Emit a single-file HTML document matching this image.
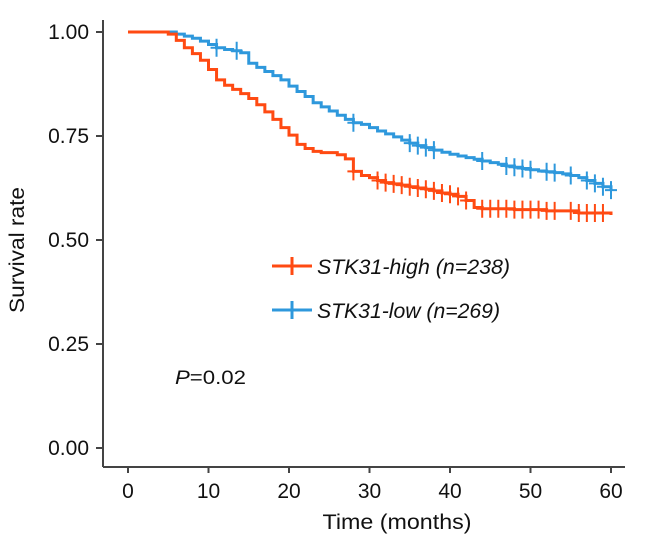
<!DOCTYPE html>
<html><head><meta charset="utf-8"><style>
html,body{margin:0;padding:0;background:#fff}
svg{display:block;font-family:"Liberation Sans",Arial,sans-serif}
</style></head><body>
<svg id="chart" width="646" height="544" viewBox="0 0 646 544">
<g id="axes"></g><g id="series"></g>
<g>
 <g>
  <line x1="272" y1="266" x2="312" y2="266" stroke="#ff4a12" stroke-width="3"/>
  <line x1="292" y1="257" x2="292" y2="275" stroke="#ff4a12" stroke-width="3"/>
  <text x="317" y="274" font-size="21" font-style="italic" fill="#111" textLength="193" lengthAdjust="spacingAndGlyphs">STK31-high (n=238)</text>
 </g>
 <g>
  <line x1="272" y1="310" x2="312" y2="310" stroke="#2e98dc" stroke-width="3"/>
  <line x1="292" y1="301" x2="292" y2="319" stroke="#2e98dc" stroke-width="3"/>
  <text x="317" y="318" font-size="21" font-style="italic" fill="#111" textLength="183" lengthAdjust="spacingAndGlyphs">STK31-low (n=269)</text>
 </g>
</g>
<text x="175" y="384" font-size="19" fill="#111" textLength="71" lengthAdjust="spacingAndGlyphs"><tspan font-style="italic">P</tspan>=0.02</text>
<text x="397" y="529" font-size="21" text-anchor="middle" fill="#111" textLength="149" lengthAdjust="spacingAndGlyphs">Time (months)</text>
<text transform="translate(24,250) rotate(-90)" font-size="21" text-anchor="middle" fill="#111" textLength="126" lengthAdjust="spacingAndGlyphs">Survival rate</text>
</svg>
<script>
const xTicks=[0,10,20,30,40,50,60];
const yTicks=[0,0.25,0.5,0.75,1];
const yTickLabels=["0.00","0.25","0.50","0.75","1.00"];
const highTimes=[0,4,5,6,7,8,9,10,11,12,13,14,15,16,17,18,19,20,21,22,23,24,26,27,28,29,30,31,32,33,34,35,36,37,38,39,40,41,42,43,44,48,52,56,60];
const highSurv=[1,1,0.995,0.98,0.962,0.948,0.932,0.91,0.885,0.872,0.862,0.852,0.84,0.825,0.808,0.79,0.77,0.752,0.73,0.72,0.713,0.71,0.705,0.695,0.665,0.655,0.65,0.643,0.638,0.635,0.632,0.628,0.625,0.622,0.618,0.613,0.61,0.605,0.595,0.578,0.575,0.573,0.57,0.565,0.56];
const highCensor=[28,31,32,33,34,35,36,37,38,39,40,41,42,44,45,46,47,48,49,50,51,52,53,55,56,57,58,59];
const lowTimes=[0,5,6,7,8,9,10,11,12,13,14,15,16,17,18,19,20,21,22,23,24,25,26,27,28,29,30,31,32,33,34,35,36,37,38,39,40,41,42,43,44,45,46,47,48,49,50,51,52,53,54,55,56,57,58,59,60];
const lowSurv=[1,1,0.995,0.99,0.985,0.978,0.97,0.962,0.958,0.955,0.95,0.925,0.915,0.905,0.895,0.885,0.87,0.857,0.845,0.83,0.82,0.81,0.8,0.79,0.782,0.778,0.77,0.762,0.755,0.748,0.74,0.733,0.727,0.722,0.716,0.711,0.706,0.702,0.698,0.694,0.69,0.686,0.682,0.678,0.675,0.672,0.669,0.666,0.664,0.662,0.659,0.655,0.65,0.643,0.636,0.628,0.62];
const lowCensor=[11,13.5,28,35,36,37,38,44,47,48,49,50,52,53,55,57,58,59,60];
const X=t=>128+t*(611-128)/60;
const Y=s=>448-s*416;
const NS="http://www.w3.org/2000/svg";
function mk(tag,attrs,parent){const e=document.createElementNS(NS,tag);for(const k in attrs)e.setAttribute(k,attrs[k]);parent.appendChild(e);return e;}
const ax=document.getElementById('axes');
const yl=mk('line',{x1:103,y1:20,x2:103,y2:467,stroke:'#444','stroke-width':2},ax);


const xl=mk('line',{x1:103,y1:467,x2:625,y2:467,stroke:'#444','stroke-width':2},ax);


xTicks.forEach(t=>{mk('line',{x1:X(t),y1:467,x2:X(t),y2:473,stroke:'#444','stroke-width':2},ax);
 const tx=mk('text',{x:X(t),y:498,'font-size':21,'text-anchor':'middle',fill:'#111'},ax);tx.textContent=t;
 
 });
yTicks.forEach((v,i)=>{mk('line',{x1:96,y1:Y(v),x2:103,y2:Y(v),stroke:'#444','stroke-width':2},ax);
 const tx=mk('text',{x:89,y:Y(v)+7,'font-size':21,'text-anchor':'end',fill:'#111'},ax);tx.textContent=yTickLabels[i];
 
 });
const sg=document.getElementById('series');
function survAt(ts,ss,t){let s=ss[0];for(let i=0;i<ts.length;i++){if(ts[i]<=t)s=ss[i];}return s;}
function draw(ts,ss,cs,color,name){
 const g=mk('g',{},sg);
 
 
 let d='M'+X(ts[0])+','+Y(ss[0]);
 for(let i=1;i<ts.length;i++){d+=' H'+X(ts[i])+' V'+Y(ss[i]);}
 mk('path',{d:d,fill:'none',stroke:color,'stroke-width':3},g);
 cs.forEach(t=>{const x=X(t),y=Y(survAt(ts,ss,t));
  const c=mk('path',{d:`M${x-6},${y}H${x+6}M${x},${y-9}V${y+9}`,stroke:color,'stroke-width':2},g);
  
  });
}
draw(lowTimes,lowSurv,lowCensor,'#2e98dc','series-low');
draw(highTimes,highSurv,highCensor,'#ff4a12','series-high');
</script>
</body></html>
